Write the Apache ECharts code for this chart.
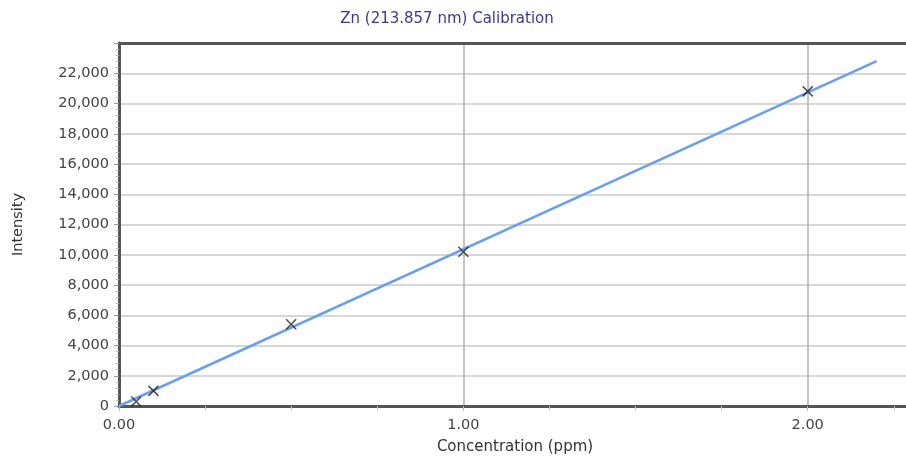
<!DOCTYPE html>
<html>
<head>
<meta charset="utf-8">
<script src="https://cdn.jsdelivr.net/npm/echarts@6/dist/echarts.min.js"></script>
<style>
  html, body { margin: 0; padding: 0; background: #fff; }
  #chart { width: 906px; height: 456px; }
</style>
</head>
<body>
<div id="chart"></div>
<script>
// calibration standards
const standardConc = [0.05, 0.1, 0.5, 1.0, 2.0];
const standardIntensity = [300, 1000, 5400, 10200, 20800];
// fitted line ends
const fitConc = [0, 2.2];
const fitIntensity = [0, 22800];

const chart = echarts.init(document.getElementById('chart'));
const font = '"DejaVu Sans", "Noto Sans", sans-serif';

const option = {
  animation: false,
  title: {
    text: 'Zn (213.857 nm) Calibration',
    left: 442,
    textAlign: 'center',
    top: 7,
    textStyle: { color: '#3a3a96', fontSize: 15, fontWeight: 'normal', fontFamily: font }
  },
  grid: {
    left: 119, top: 43, width: 792, height: 363,
    outerBoundsMode: 'none',
    containLabel: false
  },
  xAxis: [{
    type: 'value',
    min: 0, max: 2.3, interval: 1,
    name: 'Concentration (ppm)',
    nameLocation: 'middle',
    nameGap: 34,
    nameTextStyle: { color: '#333', fontSize: 15, fontFamily: font },
    axisLine: { lineStyle: { color: '#555', width: 3 } },
    axisTick: { show: true, length: 5, lineStyle: { color: '#bbb' } },
    minorTick: { show: true, splitNumber: 4, length: 4, lineStyle: { color: '#bbb' } },
    axisLabel: {
      color: '#444', fontSize: 14.5, fontFamily: font, margin: 12,
      formatter: v => v.toFixed(2),
      showMaxLabel: false
    },
    splitLine: { show: true, lineStyle: { color: '#b0b0b0', width: 1.5 } }
  }, {
    // top frame of the plot box
    type: 'value',
    position: 'top',
    min: 0, max: 2.3,
    axisLine: { show: true, lineStyle: { color: '#555', width: 3 } },
    axisTick: { show: false },
    axisLabel: { show: false },
    splitLine: { show: false }
  }],
  yAxis: {
    type: 'value',
    min: 0, max: 24000, interval: 2000,
    name: 'Intensity',
    nameLocation: 'middle',
    nameGap: 93,
    nameTextStyle: { color: '#333', fontSize: 14.5, fontFamily: font },
    axisLine: { show: true, lineStyle: { color: '#555', width: 3 } },
    axisTick: { show: true, length: 5, lineStyle: { color: '#999' } },
    minorTick: { show: true, splitNumber: 5, length: 3, lineStyle: { color: '#bbb' } },
    axisLabel: {
      color: '#444', fontSize: 14.5, fontFamily: font, margin: 10,
      formatter: v => v.toLocaleString('en-US'),
      showMaxLabel: false
    },
    splitLine: { show: true, lineStyle: { color: '#cacaca', width: 1.5 } }
  },
  series: [
    {
      type: 'line',
      data: fitConc.map((c, i) => [c, fitIntensity[i]]),
      showSymbol: false,
      lineStyle: { color: '#6a9ff0', width: 2.5 },
      z: 2
    },
    {
      type: 'scatter',
      data: standardConc.map((c, i) => [c, standardIntensity[i]]),
      symbol: 'path://M0,0L10,10M10,0L0,10',
      symbolSize: 10,
      itemStyle: { color: 'transparent', borderColor: '#222', borderWidth: 1.5 },
      z: 3
    }
  ]
};
chart.setOption(option);
</script>
</body>
</html>
